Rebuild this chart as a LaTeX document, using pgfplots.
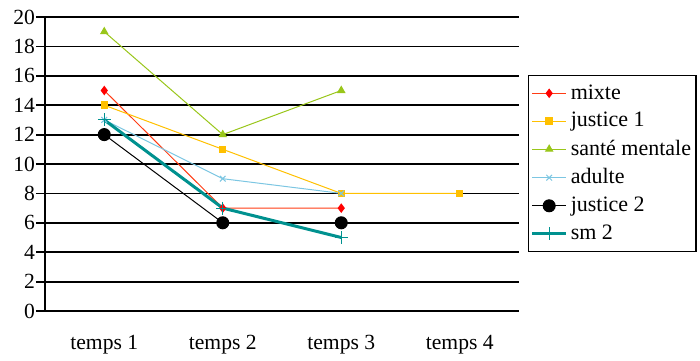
\documentclass[border=0pt]{standalone}
\usepackage{fontspec}
\setmainfont{Liberation Serif}
\usepackage{pgfplots}
\pgfplotsset{compat=1.18}
\definecolor{cmixte}{HTML}{FF3C14}
\definecolor{cjus1}{HTML}{FFC000}
\definecolor{csante}{HTML}{99C61A}
\definecolor{cadulte}{HTML}{7CC6E2}
\definecolor{csm}{HTML}{00918F}
\begin{document}
\begin{tikzpicture}
\begin{axis}[
  name=ax,
  scale only axis,
  width=237pt, height=147pt,
  xmin=0.5, xmax=4.5, ymin=0, ymax=20,
  axis x line*=bottom, axis y line*=left,
  axis line style={black, line width=0.9pt, -},
  xtick={1,2,3,4},
  xticklabels={temps 1,temps 2,temps 3,temps 4},
  major x tick style={draw=none},
  extra x ticks={0.5,1.5,2.5,3.5,4.5},
  extra x tick labels={},
  extra x tick style={major tick length=3.5pt, tick align=outside, tick style={black, line width=0.9pt}, grid=none},
  ytick={0,2,...,20},
  ymajorgrids,
  major grid style={black, line width=0.9pt},
  ytick style={black, line width=0.9pt},
  tick align=outside,
  major tick length=4.5pt,
  /pgf/number format/assume math mode=true,
  tick label style={font=\fontsize{10.8}{12}\selectfont},
  xticklabel style={yshift=-4pt},
  yticklabel style={xshift=3pt},
  legend style={at={(rel axis cs:1.019,0.803)}, anchor=north west,
    draw=black, line width=0.6pt, font=\fontsize{11}{12}\selectfont,
    row sep=2.1pt, inner sep=1pt, inner ysep=3pt,
    nodes={inner sep=1.5pt}},
  legend cell align=left,
  clip=false,
]
\addplot[cmixte, line width=0.5pt, mark=diamond*, mark size=2pt, mark options={fill=red, draw=red}] coordinates {(1,15) (2,7) (3,7)};
\addlegendentry{mixte}
\addplot[cjus1, line width=0.5pt, mark=square*, mark size=1.6pt, mark options={fill=cjus1}] coordinates {(1,14) (2,11) (3,8) (4,8)};
\addlegendentry{justice 1}
\addplot[csante, line width=0.5pt, mark=triangle*, mark size=2pt, mark options={fill=csante}] coordinates {(1,19) (2,12) (3,15)};
\addlegendentry{santé mentale}
\addplot[cadulte, line width=0.5pt, mark=x, mark size=2pt] coordinates {(1,13) (2,9) (3,8)};
\addlegendentry{adulte}
\addplot[black, line width=0.5pt, mark=*, mark size=3pt] coordinates {(1,12) (2,6) (3,6)};
\addlegendentry{justice 2}
\addplot[csm, line width=1.5pt, mark=+, mark size=3.2pt, mark options={line width=0.5pt}] coordinates {(1,13) (2,7) (3,5)};
\addlegendentry{sm 2}
\end{axis}
\path (ax.south west) ++(-22.5pt,-24pt) rectangle ++(350pt,179.5pt);
\end{tikzpicture}
\end{document}
